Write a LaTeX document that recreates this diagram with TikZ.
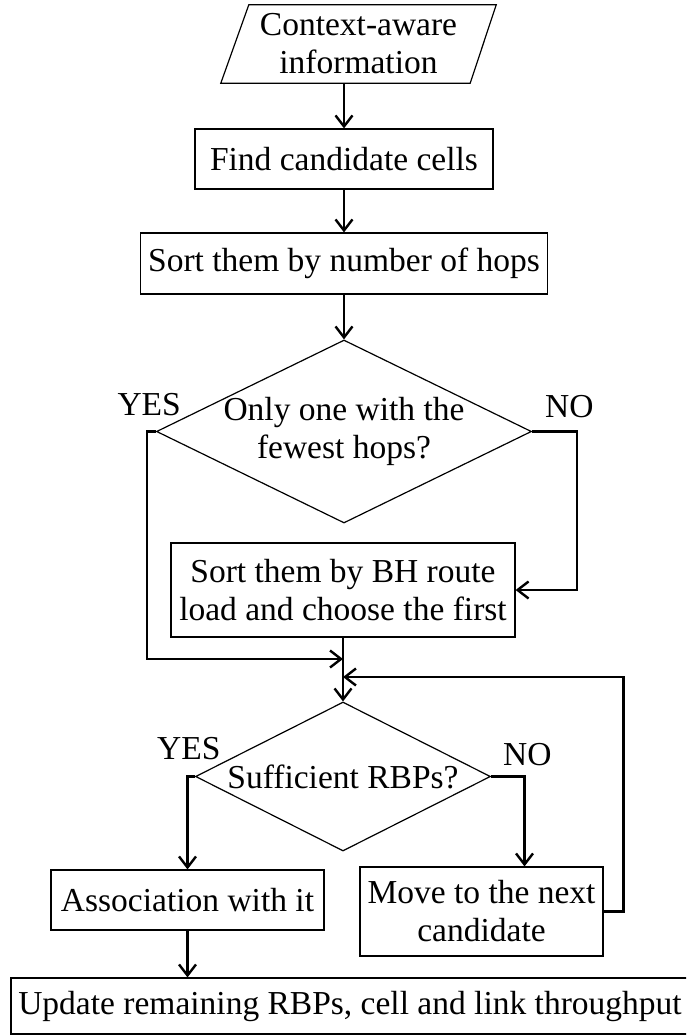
\documentclass[tikz,border=0pt]{standalone}
\usepackage{fontspec}
\setmainfont{Liberation Serif}
\usetikzlibrary{shapes.geometric,arrows.meta}
\begin{document}
\begin{tikzpicture}[x=1pt,y=-1pt,
  font=\fontsize{33.5}{38}\selectfont,
  box/.style={draw, line width=1.2pt, inner sep=0pt, align=center},
  dia/.style={draw, diamond, line width=1.2pt, inner sep=0pt},
  txt/.style={inner sep=0pt, align=center},
  conn/.style={line width=2.4pt, -{Straight Barb[length=11pt,width=17pt]}},
  lab/.style={inner sep=0pt}]
\useasboundingbox (0,0) rectangle (686,1036);
\clip (0,0) rectangle (686,1036);

% input parallelogram
\node[txt, minimum width=247pt, minimum height=78pt] (ctx) at (358.5,44) {Context-aware\\information};
\draw[line width=1.2pt] ([xshift=14pt]ctx.north west) -- ([xshift=14pt]ctx.north east)
  -- ([xshift=-12pt]ctx.south east) -- ([xshift=-14pt]ctx.south west) -- cycle;

\node[box, minimum width=298pt, minimum height=60pt] (find) at (344,159) {Find candidate cells};
\node[box, minimum width=407pt, minimum height=61pt] (sorth) at (344,263.5) {Sort them by number of hops};

\node[dia, minimum width=375pt, minimum height=183pt] (d1) at (344,431.5) {};
\node[txt] (d1t) at (d1.center) {Only one with the\\fewest hops?};

\node[box, minimum width=344pt, minimum height=94pt] (bh) at (343,590) {Sort them by BH route\\load and choose the first};

\node[dia, minimum width=295pt, minimum height=149pt] (d2) at (343,776.5) {};
\node[txt] (d2t) at (d2.center) {Sufficient RBPs?};

\node[box, minimum width=273pt, minimum height=60pt] (assoc) at (187.5,900) {Association with it};
\node[box, minimum width=243pt, minimum height=89pt] (move) at (481.5,911.5) {Move to the next\\candidate};
\node[box, minimum width=678pt, minimum height=56pt] (upd) at (350,1006) {Update remaining RBPs, cell and link throughput};

% labels
\node[lab, anchor=base east] (yes1) at (181,415) {YES};
\node[lab, anchor=base west] (no1) at (545,417) {NO};
\node[lab, anchor=base west] (yes2) at (157,759) {YES};
\node[lab, anchor=base west] (no2) at (503,765) {NO};

% junctions
\coordinate (j1) at (343,659);
\coordinate (j2) at (343,677);

% connectors
\draw[conn] (find.north |- ctx.south) -- (find.north);
\draw[conn] (find.south) -- (sorth.north);
\draw[conn] (sorth.south) -- (d1.north);
\draw[conn] (d1.east) -- ++(45,0) |- (bh.east);
\draw[conn] (d1.west) -- ++(-9,0) |- (j1);
\draw[conn] (bh.south) -- (d2.north);
\draw[conn] (move.east) -- ++(20,0) |- (j2);
\draw[conn] (d2.west) -| (assoc.north);
\draw[conn] (d2.east) -| ([xshift=43pt]move.north);
\draw[conn] (assoc.south) -- (assoc.south |- upd.north);
\end{tikzpicture}
\end{document}
